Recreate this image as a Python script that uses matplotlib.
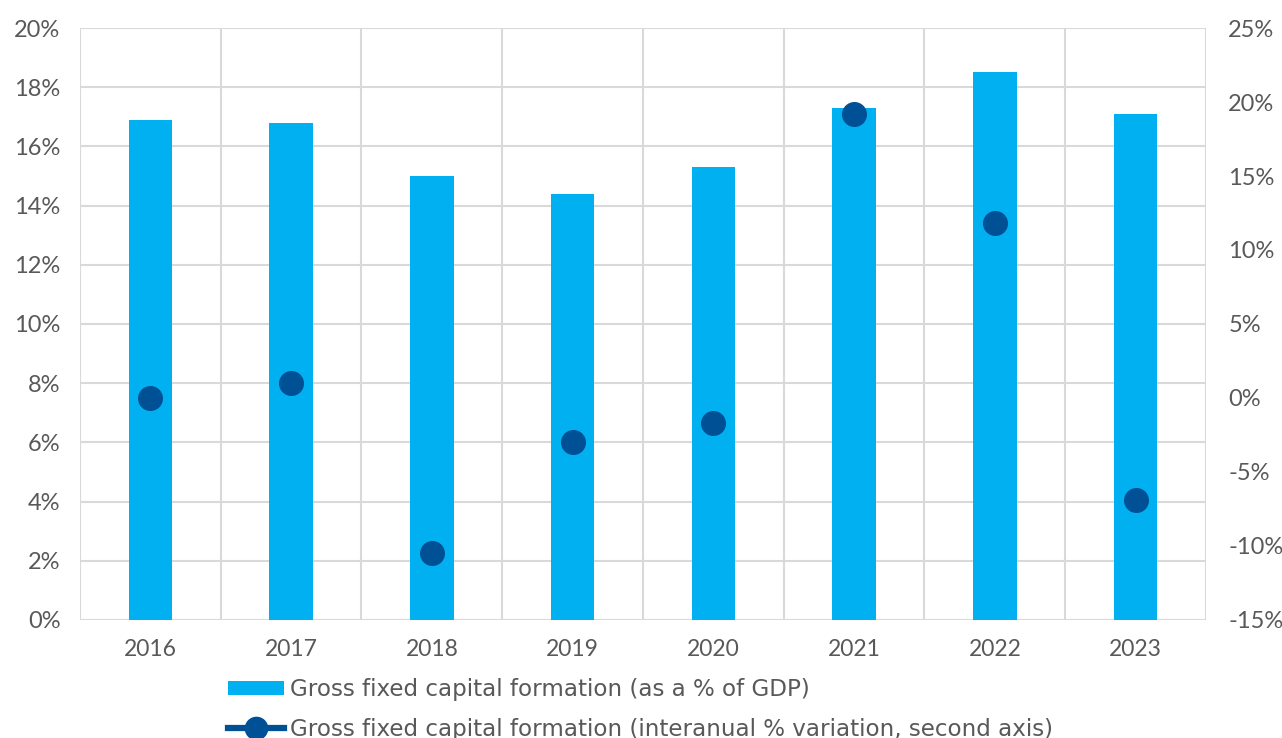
import matplotlib.pyplot as plt
from matplotlib.lines import Line2D
from matplotlib.patches import Patch
from matplotlib.ticker import FuncFormatter, MultipleLocator

plt.rcParams['font.family'] = ['Lato', 'DejaVu Sans']

# Data
years = ['2016', '2017', '2018', '2019', '2020', '2021', '2022', '2023']
gfcf_gdp = [16.9, 16.8, 15.0, 14.4, 15.3, 17.3, 18.5, 17.1]
gfcf_var = [0.0, 1.0, -10.5, -3.0, -1.7, 19.2, 11.8, -6.9]

BAR_COLOR = '#00b0f0'
DOT_COLOR = '#005096'
TEXT_COLOR = '#595959'
GRID_COLOR = '#d9d9d9'

fig = plt.figure(figsize=(12.82, 7.38), dpi=100)
ax = fig.add_axes([0.0624, 0.160, 0.8783, 0.802])
ax2 = ax.twinx()

x = list(range(len(years)))
ax.bar(x, gfcf_gdp, width=0.31, color=BAR_COLOR, zorder=2)
ax2.plot(x, gfcf_var, linestyle='none', marker='o', markersize=17,
         color=DOT_COLOR, zorder=3)

ax.set_xlim(-0.5, len(years) - 0.5)
ax.set_ylim(0, 20)
ax2.set_ylim(-15, 25)
ax.yaxis.set_major_locator(MultipleLocator(2))
ax2.yaxis.set_major_locator(MultipleLocator(5))
ax.yaxis.set_major_formatter(FuncFormatter(lambda v, p: f'{v:.0f}%'))
ax2.yaxis.set_major_formatter(FuncFormatter(lambda v, p: f'{v:.0f}%'))

ax.set_xticks(x)
ax.set_xticklabels(years)
# vertical grid lines between categories
for b in range(len(years) + 1):
    ax.axvline(b - 0.5, color=GRID_COLOR, lw=1.5, zorder=1)
ax.yaxis.grid(True, color=GRID_COLOR, lw=1.5, zorder=1)
ax.set_axisbelow(True)

for a in (ax, ax2):
    for s in a.spines.values():
        s.set_visible(False)
    a.tick_params(length=0, labelsize=16.5, labelcolor=TEXT_COLOR)
ax.tick_params(axis='y', labelsize=17, pad=14)
ax.tick_params(axis='x', pad=14)
ax2.tick_params(axis='y', labelsize=17, pad=16)

# legend: one entry per row, placed under the axis labels
bar_handle = Patch(facecolor=BAR_COLOR, edgecolor='none')
dot_handle = Line2D([0], [0], color=DOT_COLOR, lw=4.5, marker='o', markersize=16)
entries = [
    (bar_handle, 'Gross fixed capital formation (as a % of GDP)', 0.066),
    (dot_handle, 'Gross fixed capital formation (interanual % variation, second axis)', 0.012),
]
for h, label, yc in entries:
    fig.legend([h], [label], loc='center left', bbox_to_anchor=(0.178, yc),
               frameon=False, prop={'family': ['DejaVu Sans'], 'size': 16.6},
               labelcolor=TEXT_COLOR, handlelength=2.4, handleheight=0.55,
               handletextpad=0.3, borderaxespad=0, borderpad=0)

fig.savefig('out.png', dpi=100)
